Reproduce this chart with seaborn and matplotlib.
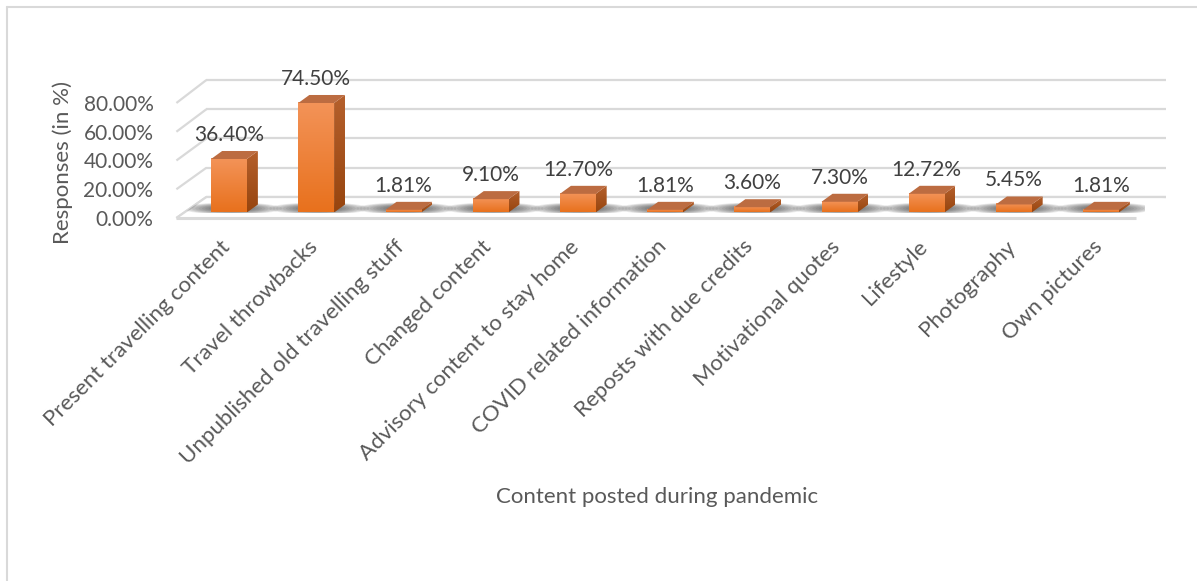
import numpy as np
import pandas as pd
import matplotlib
matplotlib.use("Agg")
import matplotlib.pyplot as plt
import matplotlib.transforms as mtransforms
from matplotlib.patches import Polygon, Ellipse
from matplotlib.lines import Line2D
from matplotlib.colors import to_rgb
import seaborn as sns

# ---- data -------------------------------------------------------------
categories = [
    "Present travelling content",
    "Travel throwbacks",
    "Unpublished old travelling stuff",
    "Changed content",
    "Advisory content to stay home",
    "COVID related information",
    "Reposts with due credits",
    "Motivational quotes",
    "Lifestyle",
    "Photography",
    "Own pictures",
]
responses = [36.40, 74.50, 1.81, 9.10, 12.70, 1.81, 3.60, 7.30, 12.72, 5.45, 1.81]
y_ticks = [0, 20, 40, 60, 80]
x_title = "Content posted during pandemic"
y_title = "Responses (in %)"

# ---- style ------------------------------------------------------------
W, H, DPI = 1197, 581, 100
GRID = "#D9D9D9"
TEXT = "#595959"
LABEL = "#404040"
FRONT_TOP, FRONT_BOT = "#F39358", "#E8711D"
SIDE_TOP, SIDE_BOT = "#B5602C", "#97450F"
TOP_FACE = "#BC6C41"
DEPTH = (11, 8)          # bar depth in pixels (right, up)

sns.set_theme(style="white")
plt.rcParams["font.family"] = ["Lato", "DejaVu Sans"]

fig = plt.figure(figsize=(W / DPI, H / DPI), dpi=DPI)
ax = fig.add_axes([185.4 / W, 368.5 / H, 959.2 / W, 117.6 / H])

df = pd.DataFrame({"content": categories, "pct": responses})
sns.barplot(data=df, x="content", y="pct", color=FRONT_BOT, saturation=1,
            width=0.41, ax=ax, zorder=4)
ax.set_xlim(-0.5, 10.5)
ax.set_ylim(0, 80)
ax.axis("off")
bars = list(ax.patches)

ident = mtransforms.IdentityTransform()
px = lambda dx, dy: mtransforms.Affine2D().translate(dx, dy)

# planes of the pseudo-3D box: front edge and back wall
front = mtransforms.Affine2D().scale(1, 0.978) + ax.transData + px(-9, -5.5)
back = mtransforms.Affine2D().scale(1, 0.995) + ax.transData + px(21, 15.5)
x_lo, x_hi = ax.get_xlim()


def seg(p0, p1, lw=1.6, z=0):
    ax.add_line(Line2D([p0[0], p1[0]], [p0[1], p1[1]], transform=ident,
                       color=GRID, lw=lw, clip_on=False, zorder=z,
                       solid_capstyle="butt"))


# back wall gridlines and left wall diagonals
for v in y_ticks:
    seg(back.transform((x_lo, v)), back.transform((x_hi, v)))
    seg(front.transform((x_lo, v)), back.transform((x_lo, v)))

# floor
floor_pts = [front.transform((x_lo, 0)), front.transform((x_hi, 0)),
             back.transform((x_hi, 0)), back.transform((x_lo, 0))]
ax.add_patch(Polygon(floor_pts, closed=True, transform=ident, facecolor="white",
                     edgecolor="none", clip_on=False, zorder=0.5))
seg(floor_pts[0], floor_pts[1], lw=2.2, z=0.6)
seg(floor_pts[3], floor_pts[2], lw=1.6, z=0.6)
seg(floor_pts[0], floor_pts[3], lw=1.6, z=0.6)

# soft shadows on the floor: stacked translucent ellipses at each bar base
floor_clip = Polygon(floor_pts, closed=True, transform=ident)
for p in bars:
    cx, by = ax.transData.transform((p.get_x() + p.get_width() / 2, 0))
    for k in range(12):
        f = 1 - k / 12
        e = Ellipse((cx + 3, by + 4), width=20 + 80 * f, height=3 + 9 * f,
                    transform=ident, facecolor="#2e2e2e", edgecolor="none",
                    alpha=0.085, zorder=1)
        ax.add_patch(e)
        e.set_clip_path(floor_clip)


def vgrad(c_top, c_bot, n=64):
    a, b = np.array(to_rgb(c_top)), np.array(to_rgb(c_bot))
    t = np.linspace(0, 1, n)[:, None]
    return (a * (1 - t) + b * t)[:, None, :]


inv = ax.transData.inverted()
ddx, ddy = DEPTH
# bars: gradient front, shaded side, flat top
for p, v in zip(bars, responses):
    x0, w, h = p.get_x(), p.get_width(), p.get_height()
    ax.imshow(vgrad(FRONT_TOP, FRONT_BOT), extent=[x0, x0 + w, 0, h],
              aspect="auto", origin="upper", zorder=4.2, interpolation="bilinear")
    (X0, B), (X1, T) = ax.transData.transform([(x0, 0), (x0 + w, h)])
    side = [(X1, B), (X1, T), (X1 + ddx, T + ddy), (X1 + ddx, B + ddy)]
    sd0 = inv.transform((X1, B))
    sd1 = inv.transform((X1 + ddx, T + ddy))
    img = ax.imshow(vgrad(SIDE_TOP, SIDE_BOT), extent=[sd0[0], sd1[0], sd0[1], sd1[1]],
                    aspect="auto", origin="upper", zorder=4.1, interpolation="bilinear")
    img.set_clip_box(None)
    img.set_clip_path(Polygon(side, closed=True, transform=ident))
    top = [(X0, T), (X1, T), (X1 + ddx, T + ddy), (X0 + ddx, T + ddy)]
    ax.add_patch(Polygon(top, closed=True, transform=ident, facecolor=TOP_FACE,
                         edgecolor="none", clip_on=False, zorder=4.3))
    # value label above the bar
    ax.text(x0 + w / 2, h, f"{v:.2f}%", transform=ax.transData + px(0, 24),
            ha="center", va="center", fontsize=15, color=LABEL, zorder=6)
    p.set_visible(False)

# value axis labels on the front edge
for v in y_ticks:
    ax.text(x_lo, v, f"{v:.2f}%", transform=front + px(-23, -2),
            ha="right", va="center", fontsize=15, color=TEXT)

# category labels
for p, cat in zip(bars, categories):
    ax.text(p.get_x() + p.get_width() / 2, 0, cat, transform=ax.transData + px(-2, -31),
            rotation=45, rotation_mode="anchor", ha="right", va="center",
            fontsize=16, color=TEXT)

ax.set_xlim(x_lo, x_hi)
ax.set_ylim(0, 80)

# axis titles
fig.text(63 / W, 1 - 162 / H, y_title, rotation=90, ha="center", va="center",
         fontsize=16, color=TEXT)
fig.text(657 / W, 1 - 497 / H, x_title, ha="center", va="center",
         fontsize=16, color=TEXT)

# chart area frame
fig.add_artist(Line2D([7 / W, 7 / W], [0, 1 - 7 / H], transform=fig.transFigure,
                      color=GRID, lw=1.5))
fig.add_artist(Line2D([7 / W, 1], [1 - 7 / H, 1 - 7 / H], transform=fig.transFigure,
                      color=GRID, lw=1.5))

fig.savefig("out.png", dpi=DPI, facecolor="white")
